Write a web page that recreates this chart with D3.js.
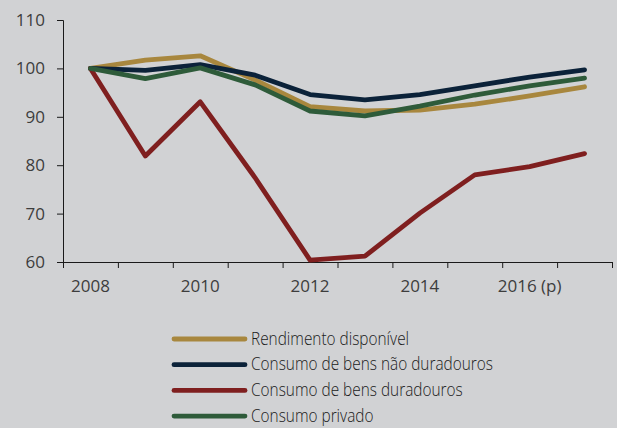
<!DOCTYPE html>
<html>
<head>
<meta charset="utf-8">
<script src="https://cdn.jsdelivr.net/npm/d3@7"></script>
<style>
  html, body { margin: 0; padding: 0; background: #d1d2d4; }
  svg { display: block; }
</style>
</head>
<body>
<div class="center"></div>
<script>
// data
const years = ["2008", "2009", "2010", "2011", "2012", "2013", "2014", "2015", "2016", "2017"];
const yearLabels = {"2008": "2008", "2010": "2010", "2012": "2012", "2014": "2014", "2016": "2016 (p)"};
const yTicks = [60, 70, 80, 90, 100, 110];

const seriesNames = ["Rendimento disponível", "Consumo de bens não duradouros", "Consumo de bens duradouros", "Consumo privado"];
const rendimento = [100, 101.7, 102.6, 97.6, 92.1, 91.2, 91.4, 92.6, 94.3, 96.2];
const naoDuradouros = [100, 99.6, 100.8, 98.6, 94.6, 93.5, 94.6, 96.4, 98.2, 99.7];
const duradouros = [100, 81.9, 93.1, 77.4, 60.4, 61.2, 70.1, 78.0, 79.7, 82.4];
const privado = [100, 97.9, 100.1, 96.6, 91.2, 90.2, 92.2, 94.5, 96.4, 98.0];

const colors = ["#a8873e", "#0b2239", "#7f1f1f", "#2e5b3a"];

const series = [rendimento, naoDuradouros, duradouros, privado].map((vals, i) => ({
    name: seriesNames[i],
    color: colors[i],
    values: vals.map((v, j) => ({year: years[j], value: v}))
}));

// dimensions
const W = 617, H = 428;
const margin = {top: 20, right: 5, bottom: 166, left: 63};
const height = H - margin.top - margin.bottom;

const xScale = d3.scaleBand().domain(years).range([0, 549]).padding(0);
const yScale = d3.scaleLinear().domain([60, 110]).range([height, 0]);

const svg = d3.select(".center").append("svg")
    .attr("width", W)
    .attr("height", H)
    .style("background", "#d1d2d4");

const g = svg.append("g")
    .attr("transform", `translate(${margin.left},${margin.top})`);

// y axis
const yAxis = d3.axisLeft(yScale).tickValues(yTicks).tickSize(6).tickPadding(12);
const gy = g.append("g").call(yAxis);
gy.select(".domain").attr("stroke", "#1a1a1a").attr("d", `M-6,0.5H0.5V${height + 0.5}`);
gy.selectAll(".tick line").attr("stroke", "#1a1a1a");
gy.selectAll(".tick text")
    .style("font-family", "'Open Sans', sans-serif")
    .style("font-size", "17px")
    .attr("fill", "#3d3d3d");

// x axis: labels at band centres, ticks at band boundaries
const xAxis = d3.axisBottom(xScale)
    .tickValues(Object.keys(yearLabels))
    .tickFormat(d => yearLabels[d])
    .tickSize(0)
    .tickPadding(18);
const gx = g.append("g").attr("transform", `translate(0,${height})`).call(xAxis);
gx.select(".domain").attr("stroke", "#1a1a1a");
gx.selectAll(".tick text")
    .style("font-family", "'Open Sans', sans-serif")
    .style("font-size", "17px")
    .attr("fill", "#3d3d3d");

const bounds = years.map(y => xScale(y)).concat([xScale.range()[1]]);
g.append("g")
    .selectAll("line")
    .data(bounds)
    .enter().append("line")
    .attr("x1", d => d + 0.5)
    .attr("x2", d => d + 0.5)
    .attr("y1", height)
    .attr("y2", height + 6)
    .attr("stroke", "#1a1a1a");

// lines
const valueline = d3.line()
    .x(d => xScale(d.year) + xScale.bandwidth() / 2)
    .y(d => yScale(d.value));

g.selectAll(".series")
    .data(series)
    .enter().append("path")
    .attr("class", "series")
    .attr("fill", "none")
    .attr("stroke", d => d.color)
    .attr("stroke-width", 4.8)
    .attr("stroke-linejoin", "round")
    .attr("stroke-linecap", "round")
    .attr("d", d => valueline(d.values));

// legend
const legend = svg.append("g").attr("transform", "translate(174,339)");
const rows = legend.selectAll("g")
    .data(series)
    .enter().append("g")
    .attr("transform", (d, i) => `translate(0,${i * 25.7})`);

rows.append("line")
    .attr("x1", 0)
    .attr("x2", 71)
    .attr("y1", 0)
    .attr("y2", 0)
    .attr("stroke", d => d.color)
    .attr("stroke-width", 4.8)
    .attr("stroke-linecap", "round");

rows.append("text")
    .attr("transform", "translate(77,5.5) scale(0.855,1)")
    .text(d => d.name)
    .style("font-family", "'Open Sans', sans-serif")
    .style("font-weight", "300")
    .style("font-size", "18px")
    .attr("fill", "#1a1a1a");
</script>
</body>
</html>
